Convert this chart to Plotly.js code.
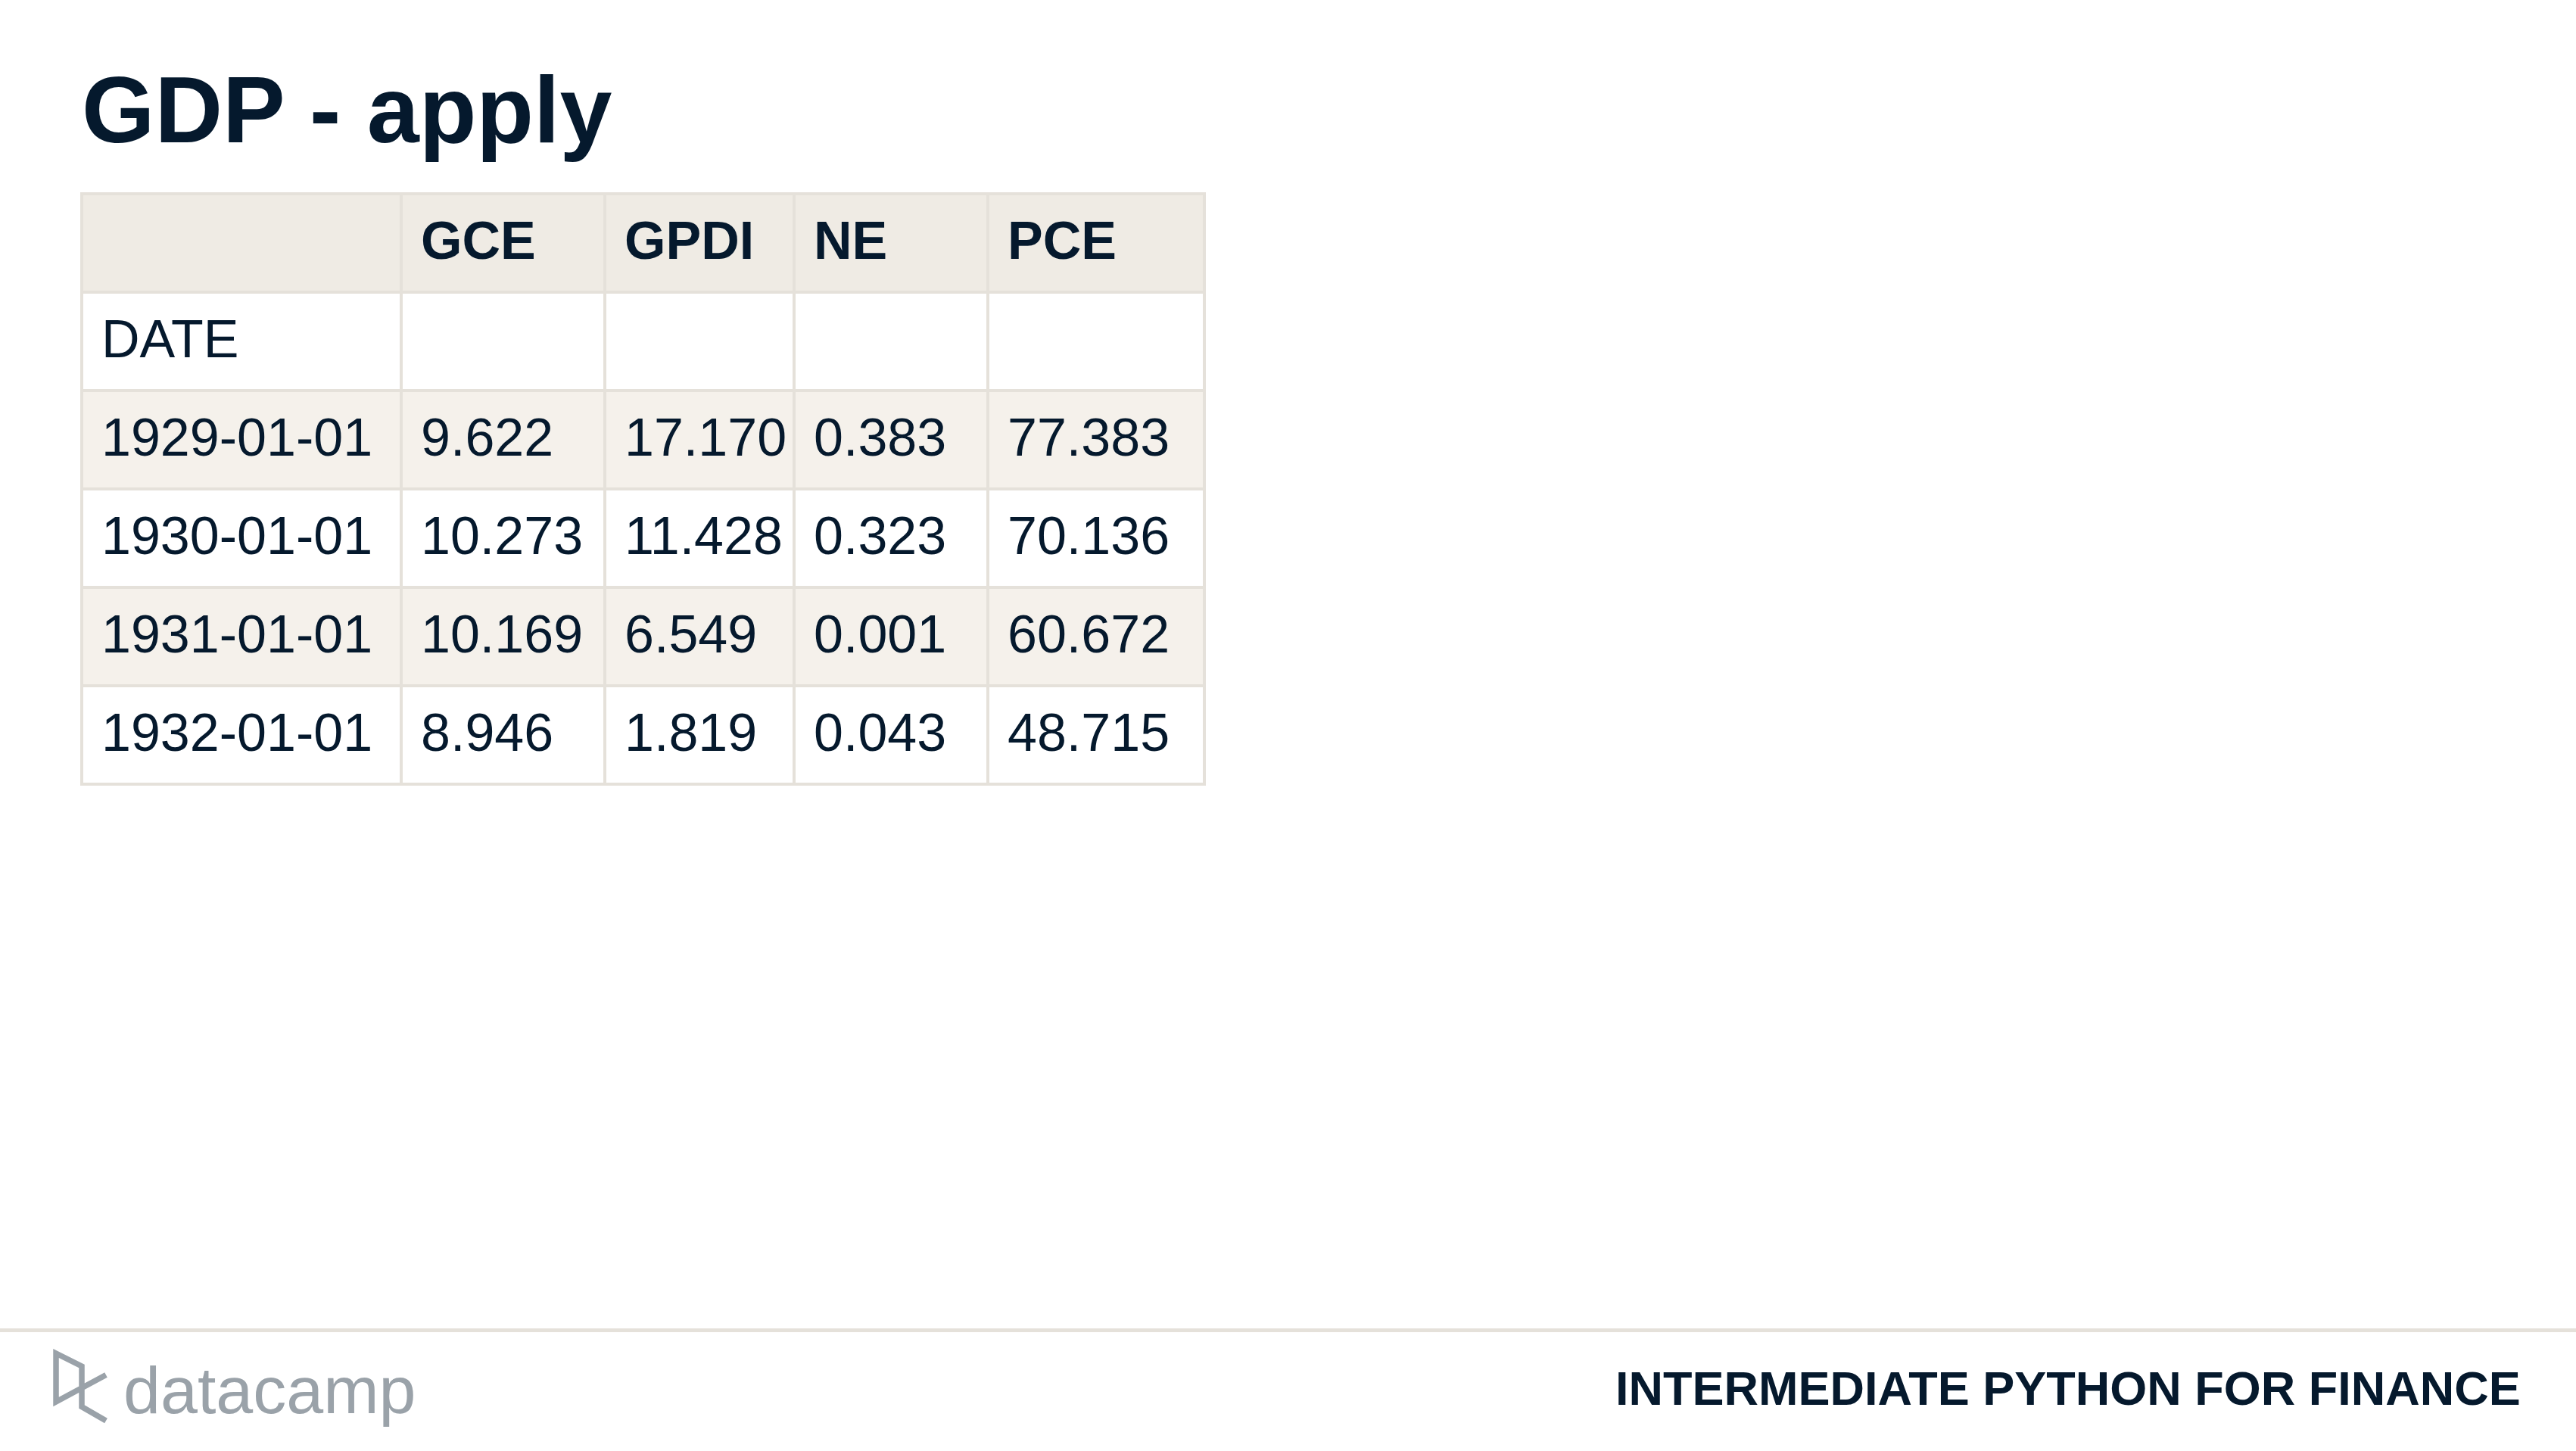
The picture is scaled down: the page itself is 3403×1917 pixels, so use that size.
<!DOCTYPE html>
<html>
<head>
<meta charset="utf-8">
<script src="https://cdn.plot.ly/plotly-3.0.1.min.js"></script>
<style>
  html, body { margin: 0; padding: 0; background: #ffffff; }
</style>
</head>
<body>
<div id="gdp-table"></div>
<script>
// GDP components table, after df.apply()
var indexName = 'DATE';
var columns = ['GCE', 'GPDI', 'NE', 'PCE'];
var dates = ['1929-01-01', '1930-01-01', '1931-01-01', '1932-01-01'];
var gce = [9.622, 10.273, 10.169, 8.946];
var gpdi = [17.170, 11.428, 6.549, 1.819];
var ne = [0.383, 0.323, 0.001, 0.043];
var pce = [77.383, 70.136, 60.672, 48.715];
var colWidths = [422, 269, 250, 256, 286];

var W = 3403, H = 1917;
var ink = '#05192d';
var border = '#e5e1da';
var fontFam = 'Liberation Sans, Arial, sans-serif';

function px(x) { return x / W; }
function py(y) { return 1 - y / H; }

var series = [gce, gpdi, ne, pce];
var nRows = dates.length + 2;   // header row + index-name row + data rows

// column edges in pixel units
var edges = [0];
colWidths.forEach(function(w, i) { edges.push(edges[i] + w); });
var rowIdx = [];
for (var r = 0; r < nRows; r++) rowIdx.push(r);

// row shading: 2 = header, 1 = striped, 0 = white
var z = rowIdx.map(function(r) {
  var v = r === 0 ? 2 : (r >= 2 && (r - 2) % 2 === 0 ? 1 : 0);
  return colWidths.map(function() { return v; });
});

var grid = {
  type: 'heatmap',
  x: edges,
  y: rowIdx,
  z: z,
  zmin: 0, zmax: 2,
  colorscale: [[0, '#ffffff'], [0.5, '#f5f1eb'], [1, '#efebe4']],
  showscale: false,
  xgap: 4, ygap: 4,
  hoverinfo: 'skip'
};

var pad = 26;     // text inset from cell edge (px)
var dy = 0.03;    // nudge text slightly down within a row
var headX = [], headY = [], headT = [];
columns.forEach(function(c, j) { headX.push(edges[j + 1] + pad); headY.push(0 + dy); headT.push(c); });

var bodyX = [edges[0] + pad], bodyY = [1 + dy], bodyT = [indexName];
dates.forEach(function(d, i) {
  bodyX.push(edges[0] + pad); bodyY.push(i + 2 + dy); bodyT.push(d);
  series.forEach(function(s, j) {
    bodyX.push(edges[j + 1] + pad); bodyY.push(i + 2 + dy); bodyT.push(s[i].toFixed(3));
  });
});

var headText = {
  type: 'scatter', mode: 'text', x: headX, y: headY, text: headT,
  textposition: 'middle right', hoverinfo: 'skip',
  textfont: { family: fontFam, size: 70, color: ink, weight: 'bold' }
};
var bodyText = {
  type: 'scatter', mode: 'text', x: bodyX, y: bodyY, text: bodyT,
  textposition: 'middle right', hoverinfo: 'skip',
  textfont: { family: fontFam, size: 70, color: ink }
};

// datacamp logo mark
var mark = [[140, 1816.5], [74, 1852], [74, 1788], [108, 1805], [108, 1858.5], [140, 1877]];
var markPath = mark.map(function(p, i) {
  return (i === 0 ? 'M' : 'L') + px(p[0]).toFixed(5) + ',' + py(p[1]).toFixed(5);
}).join(' ');

var edgePad = 2;
var layout = {
  width: W,
  height: H,
  margin: { l: 0, r: 0, t: 0, b: 0 },
  paper_bgcolor: '#ffffff',
  plot_bgcolor: border,
  showlegend: false,
  font: { family: fontFam, color: ink },
  xaxis: {
    domain: [px(106), px(1593)],
    range: [-edgePad, edges[edges.length - 1] + edgePad],
    showgrid: false, zeroline: false, showticklabels: false, ticks: '', fixedrange: true
  },
  yaxis: {
    domain: [py(1038), py(254)],
    range: [nRows - 0.5 + edgePad / 130, -0.5 - edgePad / 130],
    showgrid: false, zeroline: false, showticklabels: false, ticks: '', fixedrange: true
  },
  shapes: [
    { type: 'rect', xref: 'paper', yref: 'paper', x0: 0, x1: 1, y0: py(1760), y1: py(1755),
      fillcolor: border, line: { width: 0 } },
    { type: 'path', xref: 'paper', yref: 'paper', path: markPath,
      line: { color: '#9aa2a9', width: 7.5 } }
  ],
  annotations: [
    { text: 'GDP - apply', xref: 'paper', yref: 'paper', x: px(106), y: py(74),
      xanchor: 'left', yanchor: 'top', showarrow: false,
      font: { family: fontFam, size: 124, color: ink, weight: 'bold' } },
    { text: 'datacamp', xref: 'paper', yref: 'paper', x: px(161), y: py(1785),
      xanchor: 'left', yanchor: 'top', showarrow: false,
      font: { family: fontFam, size: 88, color: '#9aa2a9' } },
    { text: 'INTERMEDIATE PYTHON FOR FINANCE', xref: 'paper', yref: 'paper', x: px(3332), y: py(1797),
      xanchor: 'right', yanchor: 'top', showarrow: false,
      font: { family: fontFam, size: 63, color: ink, weight: 'bold' } }
  ]
};

Plotly.newPlot('gdp-table', [grid, headText, bodyText], layout, { displayModeBar: false, staticPlot: true });
</script>
</body>
</html>
